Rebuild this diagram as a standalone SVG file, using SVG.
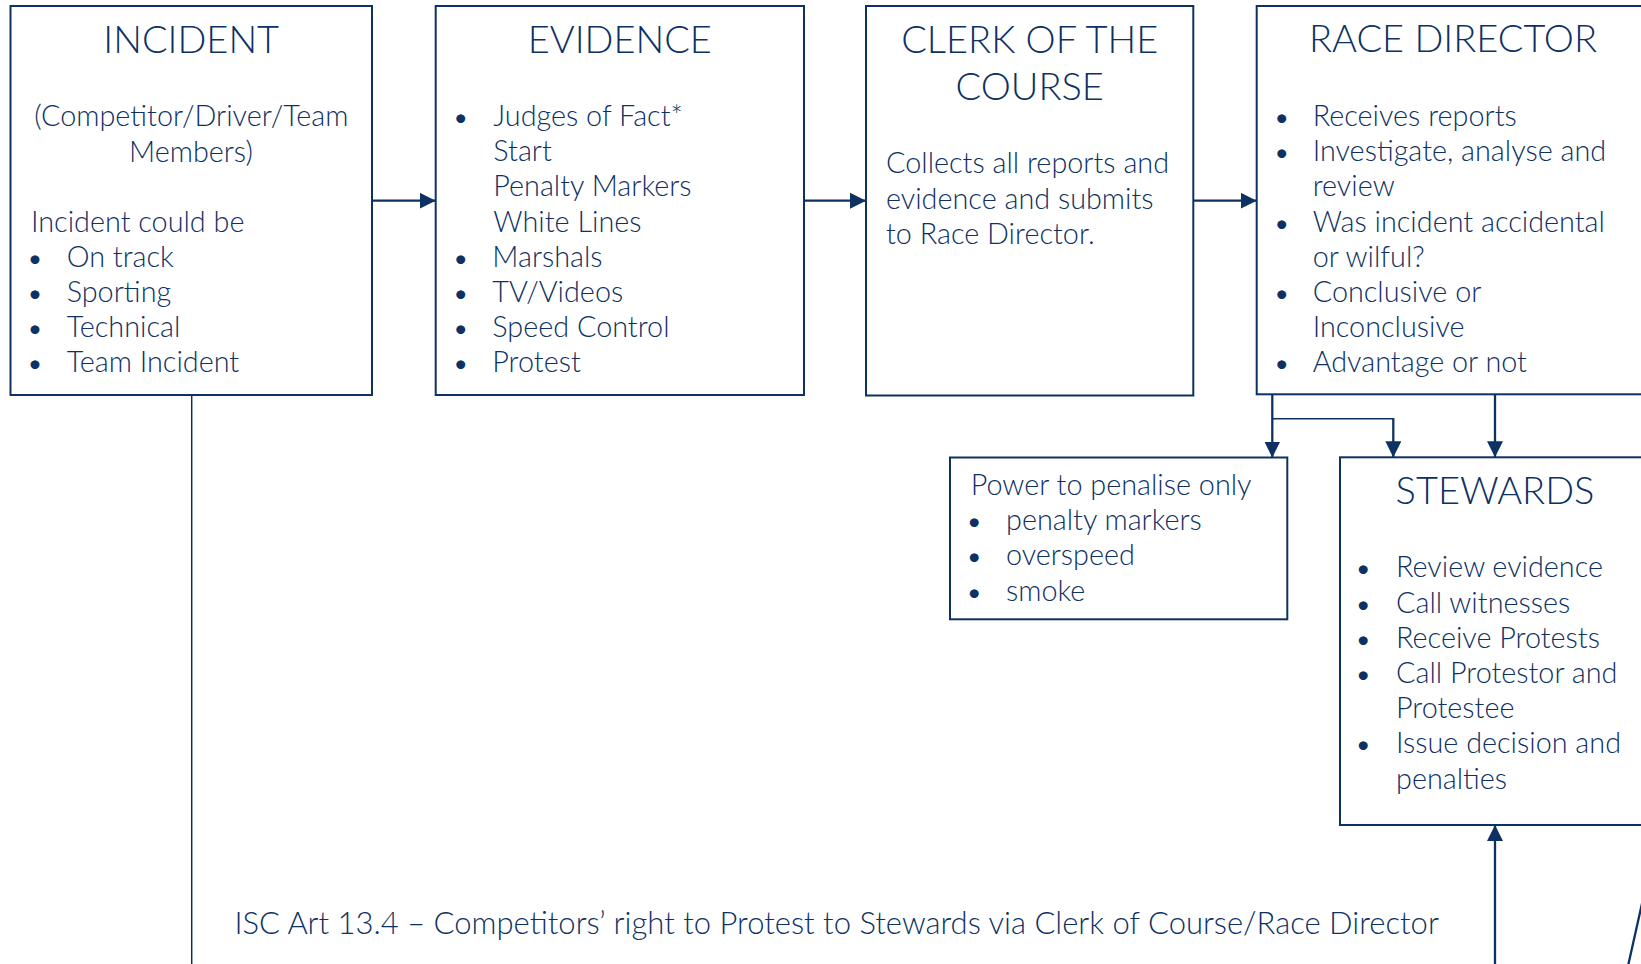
<svg xmlns="http://www.w3.org/2000/svg" width="1641" height="964" viewBox="0 0 1641 964">
  <style>
    .box { fill: #ffffff; stroke: #0e3163; stroke-width: 2; }
    .wire { fill: none; stroke: #0e3163; stroke-width: 2.3; }
    .thin { fill: none; stroke: #0e3163; stroke-width: 1.5; }
    text { font-family: Lato, "Open Sans", "Liberation Sans", sans-serif; font-weight: 300; fill: #0e3163; }
    .title { font-size: 38px; text-anchor: middle; }
    .body { font-size: 28.8px; }
    .mid { text-anchor: middle; }
    .dot { font-size: 24px; text-anchor: middle; font-weight: 400; }
    .note { font-size: 31px; }
  </style>
  <defs>
    <marker id="arrow" markerUnits="userSpaceOnUse" markerWidth="16" markerHeight="16" viewBox="0 0 15 15" refX="15" refY="7.5" orient="auto">
      <path d="M0,0 L15,7.5 L0,15 Z" fill="#0e3163"/>
    </marker>
  </defs>
  <rect width="1641" height="964" fill="#ffffff"/>

  <!-- connectors -->
  <g id="connectors">
    <line class="wire" x1="372" y1="200.7" x2="435.7" y2="200.7" marker-end="url(#arrow)"/>
    <line class="wire" x1="804" y1="200.7" x2="866" y2="200.7" marker-end="url(#arrow)"/>
    <line class="wire" x1="1193.3" y1="200.7" x2="1256.7" y2="200.7" marker-end="url(#arrow)"/>
    <line class="wire" x1="1272.3" y1="394.3" x2="1272.3" y2="457.5" marker-end="url(#arrow)"/>
    <line class="thin" x1="1272.3" y1="418.7" x2="1393.3" y2="418.7"/>
    <line class="wire" x1="1393.3" y1="418" x2="1393.3" y2="457.3" marker-end="url(#arrow)"/>
    <line class="wire" x1="1495" y1="394.3" x2="1495" y2="457.3" marker-end="url(#arrow)"/>
    <line class="thin" x1="191.7" y1="395" x2="191.7" y2="964"/>
    <line class="wire" x1="1495" y1="964" x2="1495" y2="825" marker-end="url(#arrow)"/>
    <line class="wire" x1="1643" y1="899" x2="1628" y2="966"/>
  </g>

  <!-- incident -->
  <g id="incident">
    <rect class="box" x="10.5" y="6" width="361.5" height="389"/>
    <text class="title" x="191.2" y="52.7">INCIDENT</text>
    <text class="body mid" x="191.3" y="126">(Competitor/Driver/Team</text>
    <text class="body mid" x="191" y="161.7">Members)</text>
    <text class="body" x="31" y="231.7">Incident could be</text>
    <text class="dot" x="35" y="266.7">•</text><text class="body" x="66.7" y="266.7">On track</text>
    <text class="dot" x="35" y="301.9">•</text><text class="body" x="66.7" y="301.9">Sporting</text>
    <text class="dot" x="35" y="337.1">•</text><text class="body" x="66.7" y="337.1">Technical</text>
    <text class="dot" x="35" y="372.3">•</text><text class="body" x="66.7" y="372.3">Team Incident</text>
  </g>

  <!-- evidence -->
  <g id="evidence">
    <rect class="box" x="435.7" y="6" width="368.3" height="389"/>
    <text class="title" x="619.8" y="52.7">EVIDENCE</text>
    <text class="dot" x="460.7" y="126">•</text><text class="body" x="493.3" y="126">Judges of Fact*</text>
    <text class="body" x="493.3" y="161.2">Start</text>
    <text class="body" x="493.3" y="196.4">Penalty Markers</text>
    <text class="body" x="493.3" y="231.6">White Lines</text>
    <text class="dot" x="460.7" y="266.8">•</text><text class="body" x="492.3" y="266.8">Marshals</text>
    <text class="dot" x="460.7" y="302">•</text><text class="body" x="492.3" y="302">TV/Videos</text>
    <text class="dot" x="460.7" y="337.2">•</text><text class="body" x="492.3" y="337.2">Speed Control</text>
    <text class="dot" x="460.7" y="372.4">•</text><text class="body" x="492.3" y="372.4">Protest</text>
  </g>

  <!-- clerk of the course -->
  <g id="clerk">
    <rect class="box" x="866" y="6" width="327.3" height="389.5"/>
    <text class="title" x="1029.7" y="52.7">CLERK OF THE</text>
    <text class="title" x="1029.7" y="100">COURSE</text>
    <text class="body" x="886" y="173.3">Collects all reports and</text>
    <text class="body" x="886" y="208.5">evidence and submits</text>
    <text class="body" x="886" y="243.7">to Race Director.</text>
  </g>

  <!-- race director -->
  <g id="race-director">
    <rect class="box" x="1256.7" y="6" width="393.3" height="388.3"/>
    <text class="title" x="1453" y="52">RACE DIRECTOR</text>
    <text class="dot" x="1281.7" y="126">•</text><text class="body" x="1312.7" y="126">Receives reports</text>
    <text class="dot" x="1281.7" y="161.2">•</text><text class="body" x="1312.7" y="161.2">Investigate, analyse and</text>
    <text class="body" x="1312.7" y="196.4">review</text>
    <text class="dot" x="1281.7" y="231.6">•</text><text class="body" x="1312.7" y="231.6">Was incident accidental</text>
    <text class="body" x="1312.7" y="266.8">or wilful?</text>
    <text class="dot" x="1281.7" y="302">•</text><text class="body" x="1312.7" y="302">Conclusive or</text>
    <text class="body" x="1312.7" y="337.2">Inconclusive</text>
    <text class="dot" x="1281.7" y="372.4">•</text><text class="body" x="1312.7" y="372.4">Advantage or not</text>
  </g>

  <!-- power to penalise -->
  <g id="penalise">
    <rect class="box" x="950" y="457.5" width="337.3" height="161.8"/>
    <text class="body" x="970.7" y="495">Power to penalise only</text>
    <text class="dot" x="974.3" y="530.2">•</text><text class="body" x="1006" y="530.2">penalty markers</text>
    <text class="dot" x="974.3" y="565.4">•</text><text class="body" x="1006" y="565.4">overspeed</text>
    <text class="dot" x="974.3" y="600.6">•</text><text class="body" x="1006" y="600.6">smoke</text>
  </g>

  <!-- stewards -->
  <g id="stewards">
    <rect class="box" x="1340" y="457.3" width="310" height="367.7"/>
    <text class="title" x="1495" y="504">STEWARDS</text>
    <text class="dot" x="1363.3" y="577.3">•</text><text class="body" x="1396" y="577.3">Review evidence</text>
    <text class="dot" x="1363.3" y="612.5">•</text><text class="body" x="1396" y="612.5">Call witnesses</text>
    <text class="dot" x="1363.3" y="647.7">•</text><text class="body" x="1396" y="647.7">Receive Protests</text>
    <text class="dot" x="1363.3" y="682.9">•</text><text class="body" x="1396" y="682.9">Call Protestor and</text>
    <text class="body" x="1396" y="718.1">Protestee</text>
    <text class="dot" x="1363.3" y="753.3">•</text><text class="body" x="1396" y="753.3">Issue decision and</text>
    <text class="body" x="1396" y="788.5">penalties</text>
  </g>

  <!-- protest note -->
  <g id="protest-note">
    <text class="note" x="234.4" y="934">ISC Art 13.4 – Competitors’ right to Protest to Stewards via Clerk of Course/Race Director</text>
  </g>
</svg>
